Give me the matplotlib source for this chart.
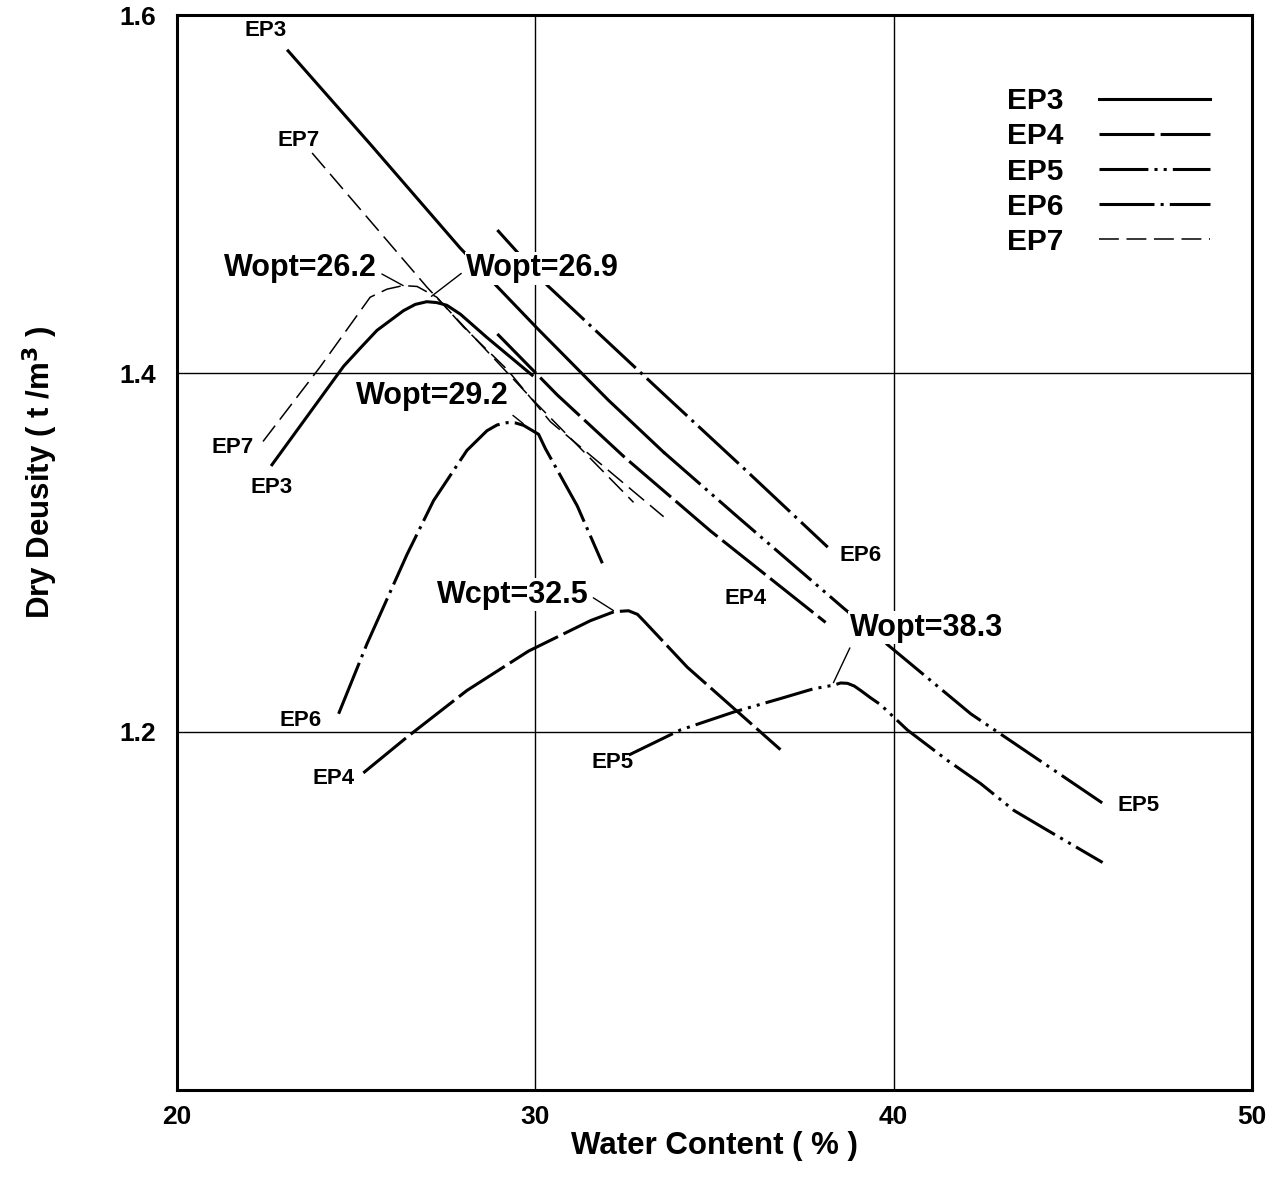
import matplotlib.pyplot as plt

plt.rcParams['font.family'] = ['Liberation Sans', 'DejaVu Sans']
plt.rcParams['font.weight'] = 'bold'

# compaction curves: water content (%) and dry density (t/m3)
ep3_w = [22.65, 24.65, 25.11, 25.58, 26.32, 26.65, 26.97, 27.25, 27.53, 27.91, 28.65, 29.91]
ep3_d = [1.349, 1.404, 1.414, 1.424, 1.435, 1.4385, 1.440, 1.4395, 1.438, 1.433, 1.420, 1.399]

ep4_w = [25.20, 26.42, 28.09, 29.81, 31.54, 32.20, 32.60, 32.85, 33.02, 34.24, 35.54, 36.84]
ep4_d = [1.177, 1.197, 1.223, 1.245, 1.262, 1.267, 1.2675, 1.2655, 1.262, 1.236, 1.213, 1.190]

ep5_w = [32.61, 34.05, 35.54, 36.84, 37.77, 38.33, 38.52, 38.71, 38.90, 39.08, 39.35, 39.64,
         40.38, 41.50, 42.43, 43.36, 44.29, 45.83]
ep5_d = [1.187, 1.201, 1.211, 1.2185, 1.224, 1.226, 1.2272, 1.227, 1.2255, 1.223, 1.219, 1.215,
         1.201, 1.184, 1.171, 1.156, 1.145, 1.127]

ep6_w = [24.51, 25.30, 26.42, 27.16, 28.09, 28.65, 28.93, 29.21, 29.45, 29.67, 30.09, 30.28, 31.17, 31.87]
ep6_d = [1.210, 1.249, 1.299, 1.329, 1.357, 1.368, 1.3712, 1.3725, 1.3723, 1.371, 1.366, 1.358, 1.326, 1.294]

ep7_w = [22.40, 23.99, 25.39, 25.86, 26.31, 26.70, 27.25, 27.99, 29.22, 30.42, 33.58]
ep7_d = [1.362, 1.4035, 1.4425, 1.447, 1.449, 1.4485, 1.4425, 1.426, 1.402, 1.373, 1.320]

# saturation lines (EP3 line continues as the EP5 line)
sat3_w = [23.10, 25.39, 27.90, 30.06, 32.04, 33.58]
sat3_d = [1.580, 1.528, 1.470, 1.425, 1.385, 1.356]
sat5_w = [33.58, 35.64, 38.60, 42.15, 45.84]
sat5_d = [1.356, 1.320, 1.269, 1.210, 1.160]
sat4_w = [28.94, 30.61, 32.50, 34.89, 38.10]
sat4_d = [1.422, 1.388, 1.353, 1.312, 1.261]
sat6_w = [28.94, 30.34, 33.55, 35.87, 38.16]
sat6_d = [1.480, 1.449, 1.389, 1.346, 1.303]
sat7_w = [23.77, 26.98, 29.94, 32.74]
sat7_d = [1.523, 1.448, 1.385, 1.328]

names = ['EP3', 'EP4', 'EP5', 'EP6', 'EP7']
styles = {
    'EP3': dict(ls='-', lw=2.2),
    'EP4': dict(ls=(0, (18, 2)), lw=2.2),
    'EP5': dict(ls=(0, (16, 2, 1, 2, 1, 2)), lw=2.2),
    'EP6': dict(ls=(0, (18, 2, 1, 2)), lw=2.2),
    'EP7': dict(ls=(0, (13, 5)), lw=1.1),
}

fig = plt.figure(figsize=(12.69, 11.93), dpi=100)
ax = fig.add_axes([0.1395, 0.0863, 0.8471, 0.9011])

curves = {'EP3': (ep3_w, ep3_d), 'EP4': (ep4_w, ep4_d), 'EP5': (ep5_w, ep5_d),
          'EP6': (ep6_w, ep6_d), 'EP7': (ep7_w, ep7_d)}
handles = []
for n in names:
    w, d = curves[n]
    h, = ax.plot(w, d, color='black', label=n, **styles[n])
    handles.append(h)

for n, w, d in [('EP3', sat3_w, sat3_d), ('EP5', sat5_w, sat5_d), ('EP4', sat4_w, sat4_d),
                ('EP6', sat6_w, sat6_d), ('EP7', sat7_w, sat7_d)]:
    ax.plot(w, d, color='black', **styles[n])

# Wopt labels with leader lines
wopt_text = ['Wopt=26.2', 'Wopt=26.9', 'Wopt=29.2', 'Wcpt=32.5', 'Wopt=38.3']
wopt_xy = [(26.31, 1.449), (27.10, 1.443), (29.66, 1.372), (32.18, 1.2676), (38.32, 1.2274)]
wopt_pos = [(23.44, 1.4587), (30.20, 1.4587), (27.12, 1.3872), (29.36, 1.2765), (40.92, 1.2581)]
wopt_rel = [(1.0, 0.4), (0.0, 0.45), (0.97, 0.1), (1.0, 0.5), (0.02, 0.05)]
for t, xy, pos, rel in zip(wopt_text, wopt_xy, wopt_pos, wopt_rel):
    ax.annotate(t, xy=xy, xytext=pos, ha='center', va='center', fontsize=22,
                fontweight='bold', zorder=5,
                bbox=dict(facecolor='white', edgecolor='none', pad=1),
                arrowprops=dict(arrowstyle='-', lw=1.0, color='black', relpos=rel,
                                shrinkA=3, shrinkB=0))

# curve end labels
end_text = ['EP3', 'EP7', 'EP7', 'EP3', 'EP6', 'EP4', 'EP5', 'EP4', 'EP6', 'EP5']
end_pos = [(22.46, 1.5916), (23.38, 1.530), (21.54, 1.3587), (22.65, 1.3363),
           (23.44, 1.2061), (24.36, 1.1737), (32.15, 1.1827), (35.87, 1.2743),
           (39.08, 1.2983), (46.84, 1.1587)]
for t, (x, y) in zip(end_text, end_pos):
    ax.text(x, y, t, ha='center', va='center', fontsize=16, fontweight='bold')

ax.set_xlim(20, 50)
ax.set_ylim(1.0, 1.6)
ax.set_xticks([20, 30, 40, 50])
ax.set_yticks([1.2, 1.4, 1.6])
ax.set_yticklabels(['1.2', '1.4', '1.6'])
ax.tick_params(length=0, labelsize=19, pad=11)
ax.tick_params(axis='y', pad=15)
for lab in ax.get_xticklabels() + ax.get_yticklabels():
    lab.set_fontweight('bold')

for gx in [30, 40]:
    ax.axvline(gx, color='black', lw=1.0, zorder=0)
for gy in [1.2, 1.4]:
    ax.axhline(gy, color='black', lw=1.0, zorder=0)

for s in ax.spines.values():
    s.set_linewidth(2.2)

ax.set_xlabel('Water Content ( % )', fontsize=22.5, fontweight='bold')
ax.xaxis.set_label_coords(0.5, -0.052)
ax.xaxis.label.set_va('center')
ax.set_ylabel('Dry Deusity ( t /m$^3$ )', fontsize=22.5, fontweight='bold')
ax.yaxis.set_label_coords(-0.127, 0.574)
ax.yaxis.label.set_va('center')

ax.legend(handles, names, markerfirst=False, frameon=False, loc='upper right',
          bbox_to_anchor=(0.972, 0.944), fontsize=21.5, handlelength=3.7,
          handletextpad=1.2, labelspacing=0.24, borderaxespad=0)

fig.savefig('out.png', dpi=100)
